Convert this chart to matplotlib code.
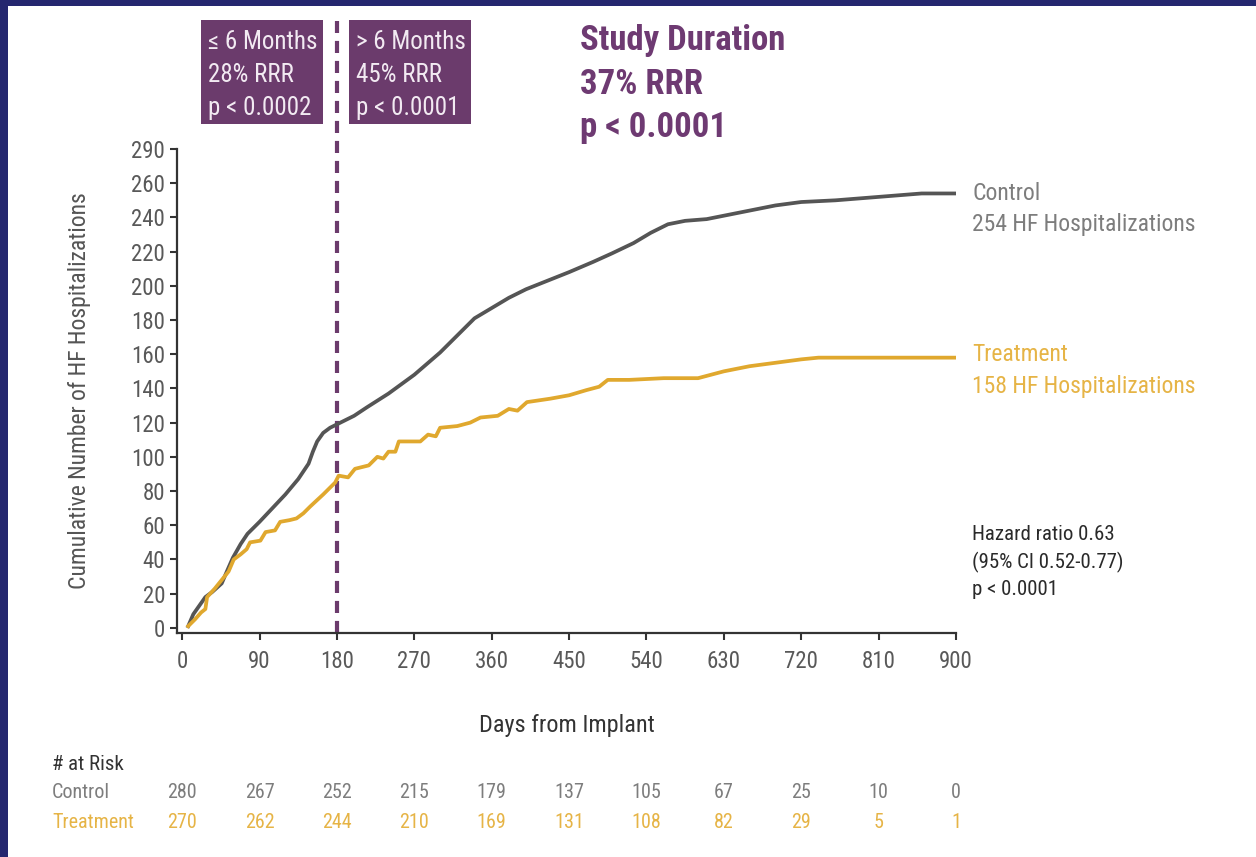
import matplotlib
matplotlib.use('Agg')
import matplotlib.pyplot as plt
import matplotlib.font_manager as fm
from matplotlib.patches import Rectangle

# ---- data ----
control_days = [7, 13, 20, 27, 35, 46, 52, 59, 68, 76, 90, 105, 120, 135, 147, 152, 157, 164, 172, 180,
                200, 215, 240, 270, 300, 320, 340, 360, 380, 400, 425, 450, 478, 500, 525, 545, 565,
                585, 610, 630, 660, 690, 720, 760, 810, 860, 900]
control_vals = [1, 8, 13, 18, 21, 26, 33, 41, 49, 55, 62, 70, 78, 87, 96, 103, 109, 114, 117, 119,
                124, 129, 137, 148, 161, 171, 181, 187, 193, 198, 203, 208, 214, 219, 225, 231, 236,
                238, 239, 241, 244, 247, 249, 250, 252, 254, 254]

treat_days = [7, 15, 22, 27, 29, 38, 46, 54, 60, 68, 75, 79, 91, 97, 108, 114, 125, 133, 141, 149, 164,
              178, 182, 193, 201, 217, 227, 234, 240, 248, 252, 277, 286, 295, 300, 320, 335, 347, 367,
              380, 390, 401, 428, 450, 470, 485, 495, 520, 560, 600, 615, 630, 660, 690, 720, 740,
              800, 850, 900]
treat_vals = [1, 5, 9, 11, 18, 23, 28, 33, 40, 43, 46, 50, 51, 56, 57, 62, 63, 64, 67, 71, 78,
              85, 89, 88, 93, 95, 100, 99, 103, 103, 109, 109, 113, 112, 117, 118, 120, 123, 124,
              128, 127, 132, 134, 136, 139, 141, 145, 145, 146, 146, 148, 150, 153, 155, 157, 158,
              158, 158, 158]

x_ticks = [0, 90, 180, 270, 360, 450, 540, 630, 720, 810, 900]
y_ticks = [0, 20, 40, 60, 80, 100, 120, 140, 160, 180, 200, 220, 240, 260, 280]
y_tick_labels = ['0', '20', '40', '60', '80', '100', '120', '140', '160', '180', '200',
                 '220', '240', '260', '290']

risk_control = [280, 267, 252, 215, 179, 137, 105, 67, 25, 10, 0]
risk_treat = [270, 262, 244, 210, 169, 131, 108, 82, 29, 5, 1]

GRAY = '#555555'
GRAY_TXT = '#7d7d7d'
GOLD = '#e0a82e'
GOLD_TXT = '#e6b446'
PURPLE = '#6b3b6c'

avail = {f.name for f in fm.fontManager.ttflist}
FONT = 'Roboto Condensed' if 'Roboto Condensed' in avail else 'Liberation Sans'
plt.rcParams['font.family'] = [FONT, 'DejaVu Sans']

W, H = 1256, 857
fig = plt.figure(figsize=(W / 100, H / 100), dpi=100, facecolor='#25276f')
fig.patches.append(Rectangle((8 / W, 0), 1, 1 - 6 / H, transform=fig.transFigure,
                             facecolor='white', edgecolor='none', zorder=-10))

ax = fig.add_axes([177 / W, 1 - 633 / H, (956 - 177) / W, (633 - 149) / H])
ax.set_facecolor('none')
ax.set_xlim(-6, 900)
ax.set_ylim(-3, 280)

ax.plot(control_days, control_vals, color=GRAY, lw=2.7, solid_joinstyle='round', zorder=3)
ax.plot(treat_days, treat_vals, color=GOLD, lw=2.7, solid_joinstyle='round', zorder=3)
ax.plot([180, 180], [-3, 355], color=PURPLE, lw=3, ls=(0, (2.9, 1.9)), clip_on=False, zorder=2)

for s in ['top', 'right']:
    ax.spines[s].set_visible(False)
for s in ['left', 'bottom']:
    ax.spines[s].set_color('#333333')
    ax.spines[s].set_linewidth(1.6)

ax.set_xticks(x_ticks)
ax.set_yticks(y_ticks)
ax.set_yticklabels(y_tick_labels)
ax.tick_params(length=5, width=1.5, color='#333333', labelcolor='#595959', labelsize=16.5)
ax.tick_params(axis='x', pad=7)

ax.set_xlabel('Days from Implant', fontsize=17.5, color='#333333', labelpad=30)
ax.set_ylabel('Cumulative Number of HF Hospitalizations', fontsize=17, color='#555555', labelpad=29)

# line labels
fig.text(972 / W, 1 - 209 / H, 'Control\n254 HF Hospitalizations', color=GRAY_TXT,
         fontsize=17, va='center', ha='left', linespacing=1.5)
fig.text(972 / W, 1 - 370 / H, 'Treatment\n158 HF Hospitalizations', color=GOLD_TXT,
         fontsize=17, va='center', ha='left', linespacing=1.5)
fig.text(972 / W, 1 - 562 / H, 'Hazard ratio 0.63\n(95% CI 0.52-0.77)\np < 0.0001', color='#2a2a2a',
         fontsize=15, va='center', ha='left', linespacing=1.5)

# top annotations
fig.text(580 / W, 1 - 84 / H, 'Study Duration\n37% RRR\np < 0.0001', color='#6e3a72',
         fontsize=25, fontweight='bold', va='center', ha='left', linespacing=1.39)
for x0, txt in [(201, '≤ 6 Months\n28% RRR\np < 0.0002'), (349, '> 6 Months\n45% RRR\np < 0.0001')]:
    fig.patches.append(Rectangle((x0 / W, 1 - 124 / H), 122 / W, 104 / H, transform=fig.transFigure,
                                 facecolor=PURPLE, edgecolor='none'))
    fig.text((x0 + 7) / W, 1 - 75 / H, txt, color='#f2eaf2', fontsize=18, va='center', ha='left',
             linespacing=1.47)

# number at risk table
trans = ax.get_xaxis_transform()
fig.text(52 / W, 1 - 765 / H, '# at Risk', color='#333333', fontsize=15, va='center', ha='left')
fig.text(52 / W, 1 - 793 / H, 'Control', color=GRAY_TXT, fontsize=14.5, va='center', ha='left')
fig.text(52 / W, 1 - 822 / H, 'Treatment', color=GOLD_TXT, fontsize=14.5, va='center', ha='left')
y_c = (633 - 793) / (633 - 149)
y_t = (633 - 822) / (633 - 149)
for d, c, t in zip(x_ticks, risk_control, risk_treat):
    ax.text(d, y_c, str(c), transform=trans, color=GRAY_TXT, fontsize=14.5, ha='center', va='center',
            clip_on=False)
    ax.text(d, y_t, str(t), transform=trans, color=GOLD_TXT, fontsize=14.5, ha='center', va='center',
            clip_on=False)

fig.savefig('out.png', dpi=100, facecolor=fig.get_facecolor())
plt.close(fig)
